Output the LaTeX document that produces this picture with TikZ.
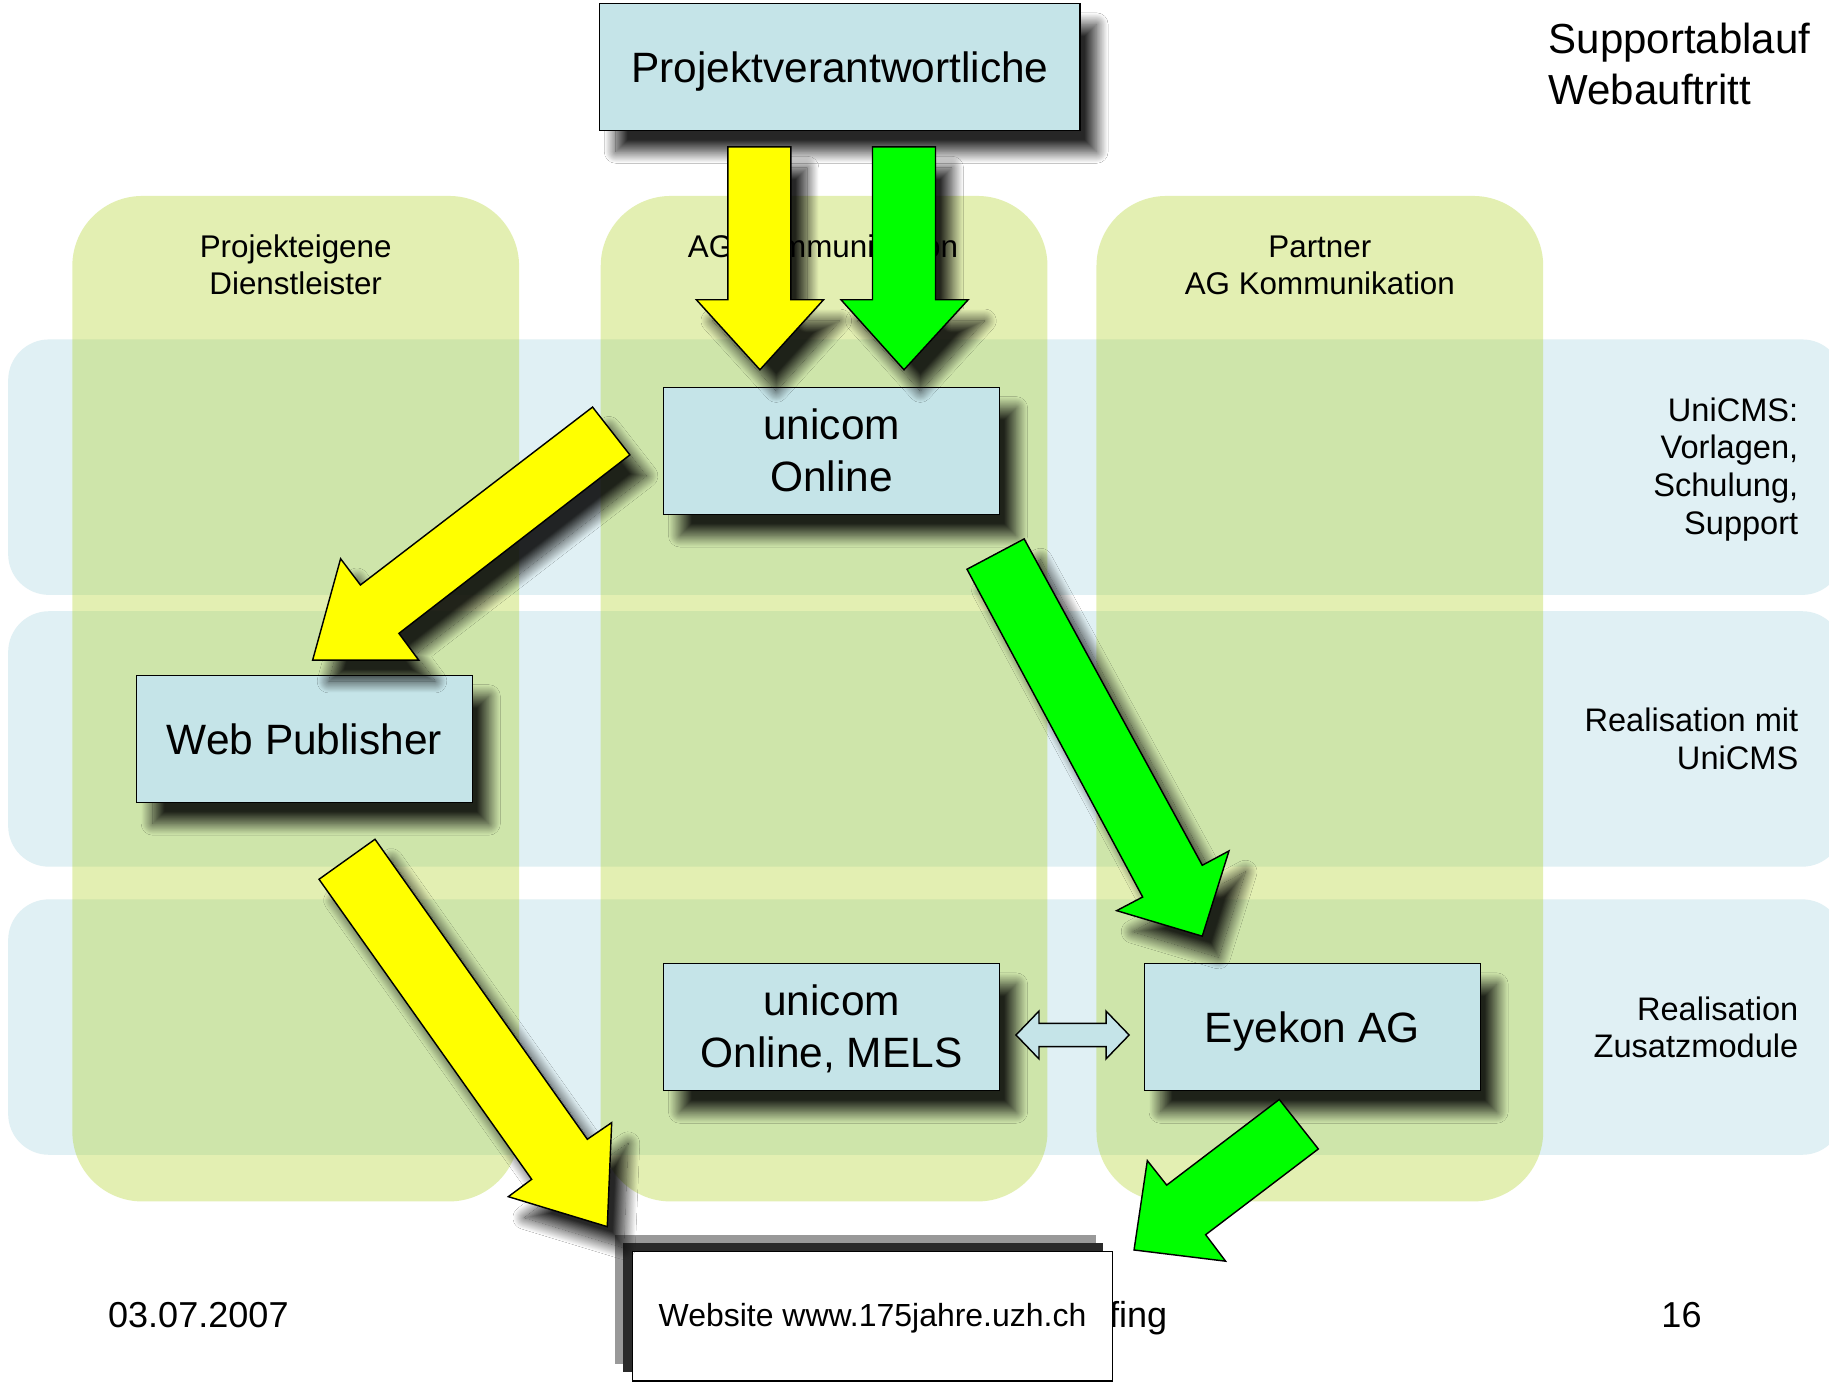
\documentclass[tikz,border=0pt]{standalone}
\usepackage{fontspec}
\setmainfont{Liberation Sans}
\usetikzlibrary{shadows.blur}
\definecolor{boxcol}{HTML}{C5E4E8}
\definecolor{rowcol}{HTML}{E0F0F4}
\definecolor{colcol}{RGB}{165,205,0}
\definecolor{ylw}{HTML}{FFFF00}
\definecolor{grn}{HTML}{00FF00}
\definecolor{shgray}{HTML}{999999}
\definecolor{shdark}{HTML}{2A2A2A}
\tikzset{
  rowband/.style={fill=rowcol, rounded corners=0.7cm},
  colband/.style={fill=colcol, fill opacity=0.3, rounded corners=1.2cm},
  softshadow/.style={blur shadow={shadow xshift=0.28cm, shadow yshift=-0.36cm, shadow blur radius=0.2cm, shadow blur steps=30, shadow opacity=85}},
  box/.style={draw=black, line width=0.7pt, fill=boxcol, softshadow, inner sep=0pt, minimum width=5.76cm, minimum height=2.18cm},
  bigtxt/.style={font=\fontsize{20.7}{25}\selectfont, inner sep=0pt, anchor=base},
  titletxt/.style={font=\fontsize{20.5}{25}\selectfont, inner sep=0pt, anchor=base west},
  hdrtxt/.style={font=\fontsize{15.3}{18}\selectfont, inner sep=0pt, anchor=base},
  lbltxt/.style={font=\fontsize{15.9}{18}\selectfont, inner sep=0pt, anchor=base east},
  foottxt/.style={font=\fontsize{17.6}{20}\selectfont, inner sep=0pt},
  blockarrow/.style={draw=black, line width=0.7pt, line join=miter},
}
\begin{document}
\begin{tikzpicture}[x=0.02cm, y=-0.02cm]
\useasboundingbox (0,0) rectangle (1568,1185);
\fill[white] (0,0) rectangle (1568,1185);

% row bands
\path[rowband] (7,291) rectangle (1580,510);
\path[rowband] (7,524) rectangle (1580,743);
\path[rowband] (7,771) rectangle (1580,990);

% column bands
\path[colband] (62,168) rectangle (445,1030);
\path[colband] (515,168) rectangle (898,1030);
\path[colband] (940,168) rectangle (1323,1030);

% column headers
\node[hdrtxt] (h1a) at (253.5,220.6) {Projekteigene};
\node[hdrtxt] (h1b) at (253.5,252.9) {Dienstleister};
\node[hdrtxt] (h2)  at (705.5,220.6) {AG Kommunikation};
\node[hdrtxt] (h3a) at (1131.5,220.6) {Partner};
\node[hdrtxt] (h3b) at (1131.5,252.9) {AG Kommunikation};

% title
\node[titletxt] (t1) at (1327.3,46) {Supportablauf};
\node[titletxt] (t2) at (1327.3,89.3) {Webauftritt};

% row labels
\node[lbltxt] (r1a) at (1542,361) {UniCMS:};
\node[lbltxt] (r1b) at (1542,393.3) {Vorlagen,};
\node[lbltxt] (r1c) at (1542,425.6) {Schulung,};
\node[lbltxt] (r1d) at (1542,457.9) {Support};
\node[lbltxt] (r2a) at (1542,627.5) {Realisation mit};
\node[lbltxt] (r2b) at (1542,659.8) {UniCMS};
\node[lbltxt] (r3a) at (1542,874.5) {Realisation};
\node[lbltxt] (r3b) at (1542,906.8) {Zusatzmodule};

% footer
\node[foottxt, anchor=base west] (date) at (92.3,1138) {03.07.2007};
\node[foottxt, anchor=base west] (page) at (1424,1138) {16};
\node[foottxt, anchor=base east] (foot) at (1001,1138) {fing};

% website box with offset layers
\fill[shgray] (527,1059) rectangle (940,1169);
\fill[shdark] (534,1066) rectangle (946,1176);
\node[draw=black, line width=0.7pt, fill=white, inner sep=0pt, minimum width=8.24cm, minimum height=2.22cm] (ws) at (748,1128.5) {};
\node[font=\fontsize{15.6}{18}\selectfont, inner sep=0pt, anchor=base] (wst) at (748,1137) {Website www.175jahre.uzh.ch};

% boxes
\node[box, minimum width=8.24cm] (pv) at (720,57.5) {};
\node[bigtxt] (pvt) at (720,70.5) {Projektverantwortliche};
\node[box] (uo) at (713,386.5) {};
\node[bigtxt] (uot1) at (713,377) {unicom};
\node[bigtxt] (uot2) at (713,421.5) {Online};
\node[box] (wp) at (261,633.5) {};
\node[bigtxt] (wpt) at (261,646.5) {Web Publisher};
\node[box] (me) at (713,880.5) {};
\node[bigtxt] (met1) at (713,870.5) {unicom};
\node[bigtxt] (met2) at (713,915) {Online, MELS};
\node[box] (ey) at (1125,880.5) {};
\node[bigtxt] (eyt) at (1125,893.5) {Eyekon AG};

% double arrow between MELS and Eyekon
\path[blockarrow, fill=boxcol] (871,887.3) -- (890.7,866.8) -- (890.7,877.3) -- (948.2,877.3) -- (948.2,866.8) -- (968,887.3) -- (948.2,907.8) -- (948.2,897.3) -- (890.7,897.3) -- (890.7,907.8) -- cycle;

% block arrows
\path[blockarrow, fill=ylw, softshadow] (624,126) -- (678,126) -- (678,257) -- (706,257) -- (651.5,317) -- (597,257) -- (624,257) -- cycle;
\path[blockarrow, fill=grn, softshadow] (748,126) -- (802,126) -- (802,257) -- (830,257) -- (775,317) -- (721,257) -- (748,257) -- cycle;
\path[blockarrow, fill=ylw, softshadow] (508,349) -- (540,390) -- (342,543) -- (359,566) -- (268,566) -- (292,479) -- (309,501.5) -- cycle;
\path[blockarrow, fill=grn, softshadow] (829,488) -- (878,462) -- (1030.7,741.8) -- (1053.6,729.5) -- (1030.7,802.6) -- (957.3,780.7) -- (979.6,769) -- cycle;
\path[blockarrow, fill=ylw, softshadow] (273.5,753.8) -- (321.5,719.5) -- (503.5,976.7) -- (524.4,962.4) -- (520.6,1051.6) -- (435.8,1025.9) -- (455.8,1011) -- cycle;
\path[blockarrow, fill=grn] (1096.7,942.6) -- (1130.2,985) -- (1033.6,1058.5) -- (1050.7,1081.2) -- (972.2,1071.6) -- (983.6,995) -- (1000.2,1016) -- cycle;
\end{tikzpicture}
\end{document}
